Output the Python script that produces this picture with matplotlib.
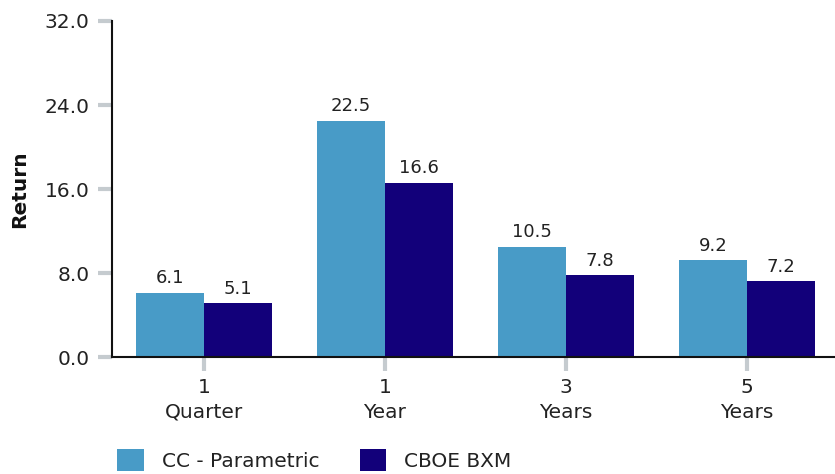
import numpy as np
import matplotlib.pyplot as plt

categories = ['1\nQuarter', '1\nYear', '3\nYears', '5\nYears']
cc_parametric = [6.1, 22.5, 10.5, 9.2]
cboe_bxm = [5.1, 16.6, 7.8, 7.2]
series_names = ['CC - Parametric', 'CBOE BXM']
y_ticks = [0, 8, 16, 24, 32]

plt.rcParams['font.family'] = ['DejaVu Sans']
text_color = '#222222'

fig = plt.figure(figsize=(8.35, 4.74), dpi=100)
ax = fig.add_axes([0.134, 0.2468, 0.866, 0.7089])

x = np.arange(len(categories))
w = 0.376
b1 = ax.bar(x - w / 2, cc_parametric, w, color='#489BC7', label=series_names[0])
b2 = ax.bar(x + w / 2, cboe_bxm, w, color='#12007A', label=series_names[1])

for bars in (b1, b2):
    for rect in bars:
        h = rect.get_height()
        ax.annotate(f'{h:.1f}', (rect.get_x() + rect.get_width() / 2, h),
                    xytext=(0, 4), textcoords='offset points',
                    ha='center', va='bottom', fontsize=13, color=text_color)

ax.set_xlim(-0.508, 3.486)
ax.set_ylim(0, 32)
ax.set_yticks(y_ticks)
ax.set_yticklabels([f'{v:.1f}' for v in y_ticks])
ax.set_xticks(x)
ax.set_xticklabels(categories, linespacing=1.4)

ax.tick_params(axis='both', colors='#C5CBCF', width=3, length=10,
               labelcolor=text_color, labelsize=14.5)
ax.tick_params(axis='y', pad=6)
ax.tick_params(axis='x', pad=5)

for s in ('top', 'right'):
    ax.spines[s].set_visible(False)
for s in ('left', 'bottom'):
    ax.spines[s].set_color('#111111')
    ax.spines[s].set_linewidth(1.5)

ax.set_ylabel('Return', fontsize=14.5, fontweight='bold', color='#111111')
ax.yaxis.set_label_coords(-0.114, 0.5)

fig.legend(handles=[b1, b2], labels=series_names, loc='lower left',
           bbox_to_anchor=(0.119, -0.032), ncol=2, frameon=False,
           fontsize=14.5, handlelength=1.3, handleheight=1.3,
           handletextpad=0.9, columnspacing=2.0, labelcolor=text_color)

fig.savefig('out.png', dpi=100)
